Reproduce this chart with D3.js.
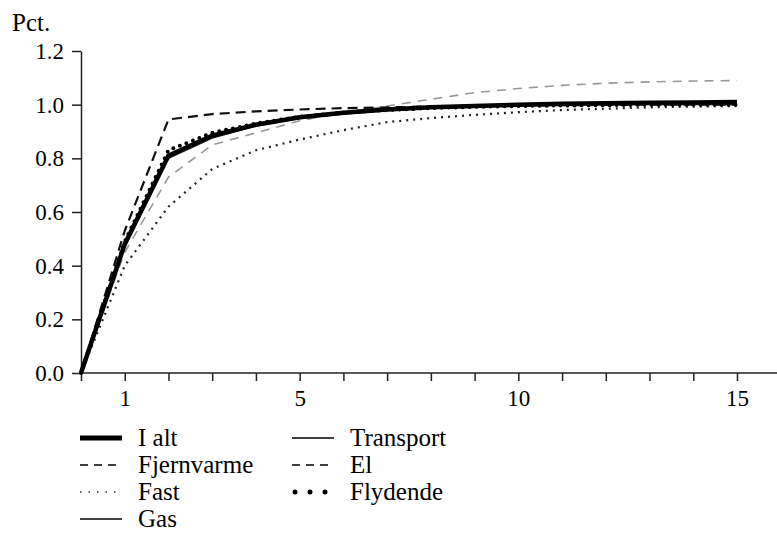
<!DOCTYPE html>
<html>
<head>
<meta charset="utf-8">
<script src="https://cdn.jsdelivr.net/npm/d3@7"></script>
<style>
  body { margin: 0; background: #fff; }
</style>
</head>
<body>
<div id="chart"></div>
<script>
// years after the shock
var years      = d3.range(0, 16)
var seriesNames = ['I alt', 'Fjernvarme', 'Fast', 'Gas', 'Transport', 'El', 'Flydende']
var iAlt       = [0, 0.48, 0.81, 0.885, 0.925, 0.953, 0.97, 0.982, 0.99, 0.995, 1.0, 1.003, 1.005, 1.007, 1.008, 1.01]
var fjernvarme = [0, 0.53, 0.945, 0.965, 0.975, 0.982, 0.987, 0.99, 0.993, 0.995, 0.997, 0.998, 0.999, 1.0, 1.0, 1.0]
var fast       = [0, 0.40, 0.62, 0.76, 0.83, 0.87, 0.905, 0.935, 0.95, 0.962, 0.972, 0.98, 0.985, 0.99, 0.993, 0.995]
var gas        = [0, 0.47, 0.80, 0.875, 0.92, 0.948, 0.965, 0.978, 0.987, 0.992, 0.996, 0.998, 1.0, 1.0, 1.0, 1.0]
var transport  = [0, 0.48, 0.81, 0.88, 0.922, 0.95, 0.968, 0.98, 0.99, 0.995, 1.0, 1.003, 1.005, 1.007, 1.008, 1.01]
var el         = [0, 0.45, 0.73, 0.85, 0.895, 0.94, 0.97, 0.995, 1.02, 1.045, 1.06, 1.072, 1.08, 1.085, 1.088, 1.09]
var flydende   = [0, 0.49, 0.83, 0.895, 0.93, 0.955, 0.97, 0.98, 0.987, 0.992, 0.995, 0.997, 0.998, 1.0, 1.0, 1.0]
var yTicks     = [0, 0.2, 0.4, 0.6, 0.8, 1.0, 1.2]
var xLabels    = [1, 5, 10, 15]

var FONT = '"Liberation Serif", "DejaVu Serif", "Times New Roman", serif'
var W = 777, H = 534
var margin = {top: 51, left: 81}
var plotW = 656, plotH = 322

var svg = d3.select('#chart').append('svg').attr('width', W).attr('height', H)
var g = svg.append('g').attr('transform', 'translate(' + margin.left + ',' + margin.top + ')')

var x = d3.scaleLinear().domain([0, 15]).range([0, plotW])
var y = d3.scaleLinear().domain([0, 1.2]).range([plotH, 0])

// axes
var xAxis = g.append('g').attr('transform', 'translate(0,' + plotH + ')')
  .call(d3.axisBottom(x).tickValues(years).tickSize(8).tickSizeOuter(0)
    .tickFormat(function(d) { return xLabels.indexOf(d) >= 0 ? d : '' }))
xAxis.select('.domain').attr('d', 'M0,0H' + (W - margin.left))
xAxis.selectAll('text').attr('dy', '0.95em')

var yAxis = g.append('g')
  .call(d3.axisLeft(y).tickValues(yTicks).tickSize(9).tickSizeOuter(0).tickFormat(d3.format('.1f')))
yAxis.selectAll('text').attr('x', -17).attr('dy', '0.33em')

svg.selectAll('.tick text').style('font-family', FONT).style('font-size', '23px').attr('fill', '#000')
svg.selectAll('.domain, .tick line').attr('stroke', '#222').attr('stroke-width', 1.5)

svg.append('text').attr('x', 12).attr('y', 31)
  .style('font-family', FONT).style('font-size', '25px').text('Pct.')

// series styles
var styles = {
  'I alt':      {data: iAlt,       color: '#000', width: 4.5, dash: null, cap: 'butt'},
  'Fjernvarme': {data: fjernvarme, color: '#111', width: 2.2, dash: '10,6', cap: 'butt'},
  'Fast':       {data: fast,       color: '#222', width: 2.2, dash: '2,5', cap: 'butt'},
  'Gas':        {data: gas,        color: '#222', width: 1.3, dash: null, cap: 'butt'},
  'Transport':  {data: transport,  color: '#222', width: 1.3, dash: null, cap: 'butt'},
  'El':         {data: el,         color: '#999', width: 1.6, dash: '9,7', cap: 'butt'},
  'Flydende':   {data: flydende,   color: '#000', width: 4,   dash: '0,7', cap: 'round'}
}

var line = d3.line().x(function(d, i) { return x(years[i]) }).y(function(d) { return y(d) })

var drawOrder = ['El', 'Fast', 'Gas', 'Transport', 'Fjernvarme', 'I alt', 'Flydende']
drawOrder.forEach(function(name) {
  var s = styles[name]
  g.append('path')
    .datum(s.data)
    .attr('fill', 'none')
    .attr('stroke', s.color)
    .attr('stroke-width', s.width)
    .attr('stroke-dasharray', s.dash)
    .attr('stroke-linecap', s.cap)
    .attr('d', line)
})

// legend
var legendStyles = {
  'I alt':      {color: '#000', width: 5,   dash: null},
  'Fjernvarme': {color: '#000', width: 1.5, dash: '8,6'},
  'Fast':       {color: '#333', width: 1.3, dash: '1.5,7'},
  'Gas':        {color: '#000', width: 1.5, dash: null},
  'Transport':  {color: '#000', width: 1.5, dash: null},
  'El':         {color: '#000', width: 1.5, dash: '8,6'},
  'Flydende':   {color: '#000', width: 5,   dash: '0,15', cap: 'round'}
}
var legendX = [80, 292]
var legendY = [438, 465, 492, 519]
seriesNames.forEach(function(name, i) {
  var col = i < 4 ? 0 : 1
  var row = i < 4 ? i : i - 4
  var ls = legendStyles[name]
  var lx = legendX[col], ly = legendY[row]
  svg.append('line')
    .attr('x1', lx + (ls.cap ? 3 : 0)).attr('x2', lx + 42).attr('y1', ly).attr('y2', ly)
    .attr('stroke', ls.color).attr('stroke-width', ls.width)
    .attr('stroke-dasharray', ls.dash).attr('stroke-linecap', ls.cap || 'butt')
  svg.append('text')
    .attr('x', lx + 58).attr('y', ly).attr('dy', '0.33em')
    .style('font-family', FONT).style('font-size', '25px')
    .text(name)
})
</script>
</body>
</html>
